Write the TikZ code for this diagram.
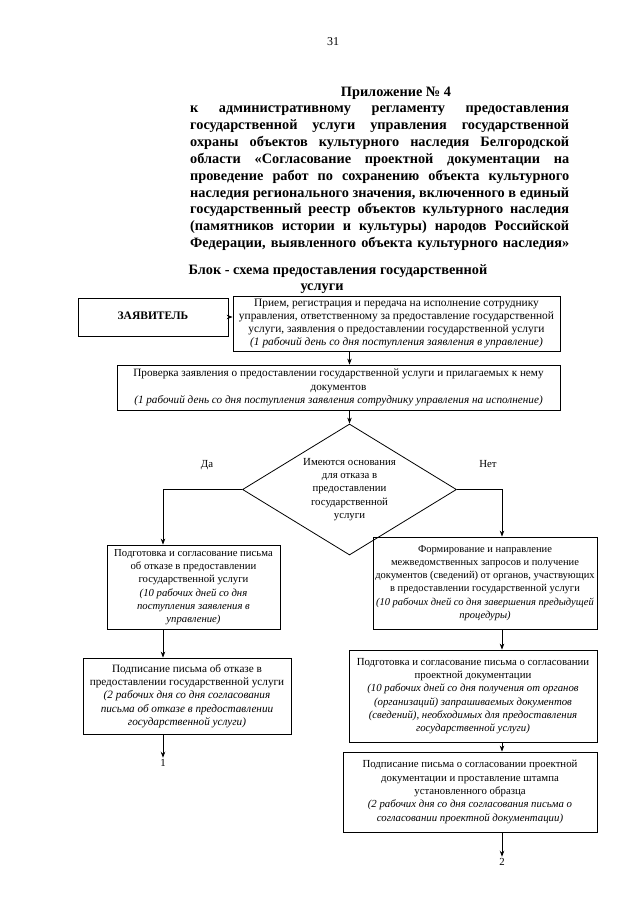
\documentclass[tikz,border=0pt]{standalone}
\usepackage{fontspec}
\setmainfont{Liberation Serif}
\usetikzlibrary{arrows.meta,shapes.geometric}
\begin{document}
\begin{tikzpicture}[x=1pt,y=-1pt,
  box/.style={draw, line width=0.8pt, inner sep=0pt, align=center},
  fs/.style={font=\fontsize{#1}{13.3}\selectfont},
  arr/.style={line width=0.8pt, -{Stealth[length=6pt,width=4.5pt]}},
  hd/.style={inner sep=0pt, anchor=base west, font=\fontsize{14.3}{16.9}\selectfont\bfseries},
  ttl/.style={inner sep=0pt, anchor=base, font=\fontsize{14.3}{16.9}\selectfont\bfseries},
  lbl/.style={inner sep=1.5pt, font=\fontsize{10.8}{13.2}\selectfont}]
\fill[white] (0,0) rectangle (640,905);
\useasboundingbox (0,0) rectangle (640,905);

\node[lbl, font=\fontsize{12}{14}\selectfont] (pg) at (333,42) {31};
\node[ttl] (app) at (396,96.5) {Приложение № 4};
\node[hd] (l1) at (190,112.5) {\makebox[379pt][s]{к административному регламенту предоставления}};
\node[hd] (l2) at (190,129.4) {\makebox[379pt][s]{государственной услуги управления государственной}};
\node[hd] (l3) at (190,146.3) {\makebox[379pt][s]{охраны объектов культурного наследия Белгородской}};
\node[hd] (l4) at (190,163.2) {\makebox[379pt][s]{области «Согласование проектной документации на}};
\node[hd] (l5) at (190,180.1) {\makebox[379pt][s]{проведение работ по сохранению объекта культурного}};
\node[hd] (l6) at (190,197.0) {\makebox[379pt][s]{наследия регионального значения, включенного в единый}};
\node[hd] (l7) at (190,213.9) {\makebox[379pt][s]{государственный реестр объектов культурного наследия}};
\node[hd] (l8) at (190,230.8) {\makebox[379pt][s]{(памятников истории и культуры) народов Российской}};
\node[hd] (l9) at (190,247.7) {\makebox[379pt][s]{Федерации, выявленного объекта культурного наследия»}};

\node[ttl] (t1) at (338,274.5) {Блок - схема предоставления государственной};
\node[ttl] (t2) at (322,290.5) {услуги};

\coordinate (cL) at (163,0);
\coordinate (cR) at (502,0);

\node[draw, line width=1pt, minimum width=150pt, minimum height=38pt, inner sep=0pt,
  font=\fontsize{11.5}{13}\selectfont\bfseries] (zay) at (153,317)
  {\raisebox{3pt}{ЗАЯВИТЕЛЬ}\hspace{24pt}};

\node[box, fs=11.4, minimum width=327pt, minimum height=55pt] (b1) at (396.5,323.5)
  {Прием, регистрация и передача на исполнение сотруднику\\
   управления, ответственному за предоставление государственной\\
   услуги, заявления о предоставлении государственной услуги\\
   \textit{(1 рабочий день со дня поступления заявления в управление)}};

\node[box, fs=11.2, minimum width=443pt, minimum height=45pt] (b2) at (338.5,387.5)
  {Проверка заявления о предоставлении государственной услуги и прилагаемых к нему\\
   документов\\
   \textit{(1 рабочий день со дня поступления заявления сотруднику управления на исполнение)}};

\node[diamond, draw, line width=0.8pt, inner sep=0pt, shape aspect=1.63,
  minimum width=214pt, minimum height=131pt, align=center,
  font=\fontsize{10.8}{13.2}\selectfont] (dia) at (349.5,489.5)
  {Имеются основания\\для отказа в\\предоставлении\\государственной\\услуги};

\node[lbl] (da) at (207,465) {Да};
\node[lbl] (net) at (488,464) {Нет};

\node[box, fs=10.7, minimum width=173pt, minimum height=84pt] (b4) at (193.5,587)
  {Подготовка и согласование письма\\
   об отказе в предоставлении\\
   государственной услуги\\
   \textit{(10 рабочих дней со дня}\\
   \textit{поступления заявления в}\\
   \textit{управление)}};

\node[box, fs=10.5, minimum width=224pt, minimum height=92pt] (b3) at (485,583)
  {Формирование и направление\\
   межведомственных запросов и получение\\
   документов (сведений) от органов, участвующих\\
   в предоставлении государственной услуги\\
   \textit{(10 рабочих дней со дня завершения предыдущей}\\
   \textit{процедуры)}};

\node[box, fs=11.2, minimum width=208pt, minimum height=76pt] (b5) at (187,696)
  {Подписание письма об отказе в\\
   предоставлении государственной услуги\\
   \textit{(2 рабочих дня со дня согласования}\\
   \textit{письма об отказе в предоставлении}\\
   \textit{государственной услуги)}};

\node[box, fs=10.8, minimum width=248pt, minimum height=92pt] (b6) at (473,696)
  {Подготовка и согласование письма о согласовании\\
   проектной документации\\
   \textit{(10 рабочих дней со дня получения от органов}\\
   \textit{(организаций) запрашиваемых документов}\\
   \textit{(сведений), необходимых для предоставления}\\
   \textit{государственной услуги)}};

\node[box, fs=10.8, minimum width=254pt, minimum height=80pt] (b7) at (470,792)
  {Подписание письма о согласовании проектной\\
   документации и проставление штампа\\
   установленного образца\\
   \textit{(2 рабочих дня со дня согласования письма о}\\
   \textit{согласовании проектной документации)}};

\node[lbl] (n1) at (163,763) {1};
\node[lbl] (n2) at (502,862) {2};

\draw[arr] (zay.east) -- (zay.east -| b1.west);
\draw[arr] (b1.south -| dia.north) -- (b2.north -| dia.north);
\draw[arr] (b2.south -| dia.north) -- (dia.north);
\draw[arr] (dia.west) -| (b4.north -| cL);
\draw[arr] (dia.east) -| (b3.north -| cR);
\draw[arr] (b4.south -| cL) -- (b5.north -| cL);
\draw[arr] (b5.south -| cL) -- (n1.north);
\draw[arr] (b3.south -| cR) -- (b6.north -| cR);
\draw[arr] (b6.south -| cR) -- (b7.north -| cR);
\draw[arr] (b7.south -| cR) -- (n2.north);
\end{tikzpicture}
\end{document}
